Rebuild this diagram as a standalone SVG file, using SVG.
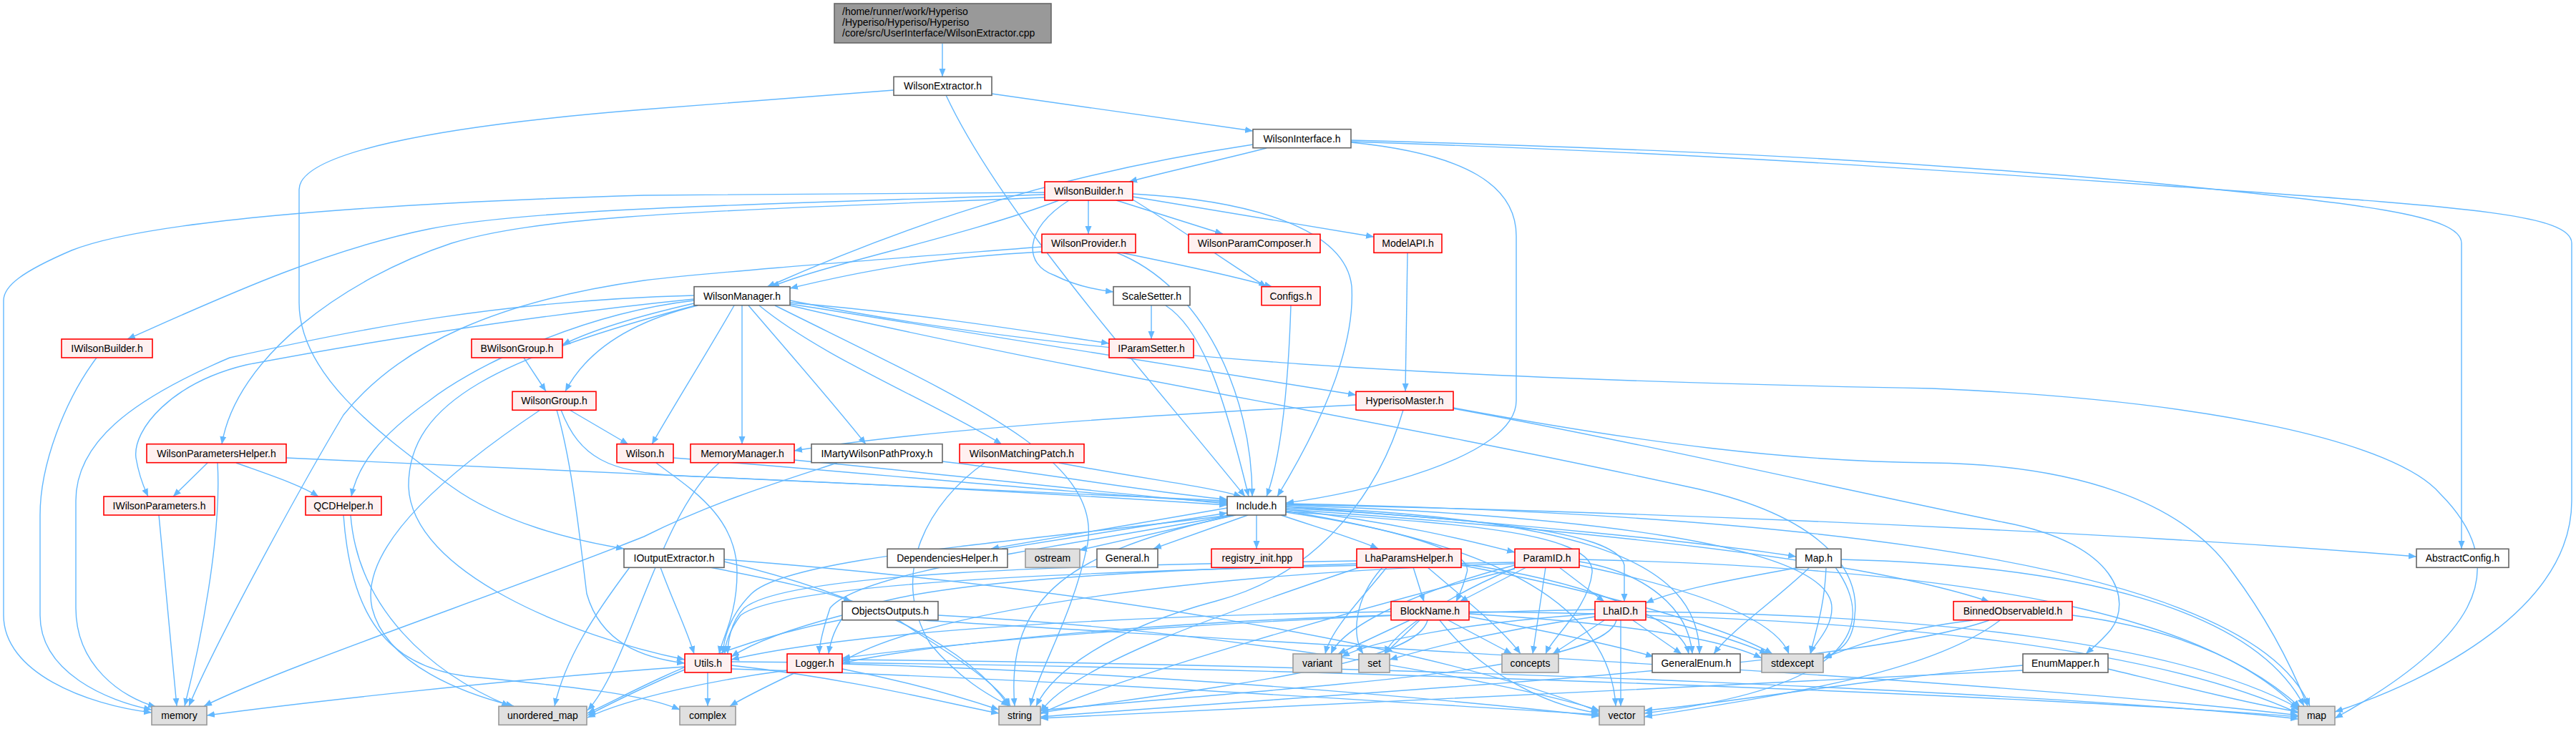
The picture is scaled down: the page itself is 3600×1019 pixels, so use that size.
<svg xmlns="http://www.w3.org/2000/svg" width="3600" height="1019" viewBox="0 0 3600 1019">
<defs>
<marker id="a" markerWidth="12" markerHeight="10" refX="11" refY="4.5" orient="auto" markerUnits="userSpaceOnUse"><path d="M0,0 L11,4.5 L0,9 z" fill="#63b8ff"/></marker>
<style>
.e path{fill:none;stroke:#63b8ff;stroke-width:1.4;marker-end:url(#a)}
.r{fill:#fff0f0;stroke:#ff0000;stroke-width:1.6}
.w{fill:#ffffff;stroke:#666666;stroke-width:1.6}
.g{fill:#e0e0e0;stroke:#999999;stroke-width:1.6}
.root{fill:#999999;stroke:#666666;stroke-width:1.6}
text{font-family:"Liberation Sans",Arial,sans-serif;font-size:14px;fill:#000000}
.c{text-anchor:middle}
</style>
</defs>
<rect x="0" y="0" width="3600" height="1019" fill="#ffffff"/>
<g id="connectors" class="e">
<path d="M1317,61 L1317,107"/>
<path d="M1386,131 L1751,183"/>
<path d="M1249,126 C1100,137 1000,146 900,153 C600,177 418,215 418,265 L418,423 C418,520 520,600 631,680 C700,730 800,755 872,767"/>
<path d="M1322,133 C1400,300 1600,520 1740,694"/>
<path d="M1770,207 C1700,225 1630,240 1578,254"/>
<path d="M1751,202 C1500,240 1300,300 1072,401"/>
<path d="M1888,199 C2050,215 2119,260 2119,330 L2119,560 C2119,640 1900,690 1797,703"/>
<path d="M1888,196 C2400,210 2700,228 3000,255 C3300,285 3440,300 3440,340 L3440,767"/>
<path d="M1888,198 C2400,215 2700,237 3100,265 C3450,290 3594,300 3594,340 L3594,700 C3594,850 3400,950 3263,995"/>
<path d="M1460,272 C1100,285 750,290 600,320 C450,350 300,420 178,474"/>
<path d="M1460,276 C1000,295 760,300 631,340 C480,390 330,500 310,621"/>
<path d="M1460,269 C1200,271 1000,272 900,273 C500,285 200,310 100,350 C30,380 5,400 5,420 L5,860 C5,940 120,985 212,996"/>
<path d="M1480,280 C1350,330 1150,370 1078,401"/>
<path d="M1521,280 L1521,327"/>
<path d="M1494,280 C1430,320 1430,370 1474,385 C1500,398 1530,405 1556,408"/>
<path d="M1560,280 L1709,327"/>
<path d="M1583,279 C1650,320 1720,370 1770,401"/>
<path d="M1583,275 L1920,331"/>
<path d="M1583,271 C1750,280 1880,320 1889,400 C1895,500 1830,620 1785,694"/>
<path d="M1456,352 C1300,360 1200,380 1104,403"/>
<path d="M1566,353 C1650,370 1720,385 1778,401"/>
<path d="M1560,353 C1680,400 1750,550 1750,694"/>
<path d="M1456,345 C1200,365 1000,380 900,392 C700,420 560,480 480,580 C420,680 300,900 264,987"/>
<path d="M1967,353 L1964,547"/>
<path d="M1609,427 L1609,474"/>
<path d="M1629,427 C1680,460 1710,550 1745,694"/>
<path d="M1804,427 C1800,550 1790,640 1770,694"/>
<path d="M970,424 C900,440 830,460 786,482"/>
<path d="M975,427 C880,450 820,490 790,547"/>
<path d="M1026,427 C990,490 940,570 911,621"/>
<path d="M1037,427 L1037,621"/>
<path d="M1046,427 C1100,490 1170,570 1210,621"/>
<path d="M1061,427 C1150,500 1300,560 1400,621"/>
<path d="M1104,423 C1300,440 1450,465 1550,480"/>
<path d="M1104,425 C1400,470 1700,520 1895,552"/>
<path d="M970,418 C750,440 500,480 344,510 C240,535 185,600 190,640 C195,670 203,685 207,694"/>
<path d="M970,420 C800,440 650,520 600,560 C530,610 500,650 491,694"/>
<path d="M1083,427 C1350,560 1540,640 1520,760 C1500,860 1450,940 1440,987"/>
<path d="M970,413 C700,420 500,460 321,500 C180,560 106,620 106,700 L106,850 C106,930 170,975 218,988"/>
<path d="M975,426 C700,500 570,560 571,680 C575,800 800,890 957,922"/>
<path d="M1104,420 C1500,500 2000,530 2700,543 C3100,560 3350,620 3410,690 C3520,800 3450,900 3263,1004"/>
<path d="M1104,427 C1500,520 1900,580 2357,680 C2550,720 2600,800 2592,860 C2590,900 2570,910 2549,920"/>
<path d="M732,500 L763,547"/>
<path d="M796,573 L878,621"/>
<path d="M755,573 C640,650 500,760 520,850 C540,930 650,970 718,987"/>
<path d="M778,573 C800,650 810,750 820,830 C840,900 900,920 957,927"/>
<path d="M784,573 C810,640 850,660 950,665 C1300,680 1550,695 1715,706"/>
<path d="M290,647 L242,694"/>
<path d="M304,647 C310,750 280,900 258,987"/>
<path d="M330,647 C380,665 420,678 445,694"/>
<path d="M400,640 C700,655 1300,680 1715,700"/>
<path d="M917,647 C960,680 1030,720 1030,800 C1030,860 1010,890 1005,914"/>
<path d="M941,640 C1200,660 1500,690 1715,702"/>
<path d="M1110,643 C1300,660 1550,690 1715,704"/>
<path d="M1005,647 C920,720 880,930 821,993"/>
<path d="M1895,566 C1600,580 1300,600 1110,630"/>
<path d="M1961,573 C1930,680 1850,800 1700,840 C1550,880 1470,940 1448,987"/>
<path d="M2031,570 C2300,620 2500,645 2700,647 C2900,650 3050,700 3120,800 C3180,880 3210,950 3225,987"/>
<path d="M2031,571 C2300,620 2600,690 2800,730 C2960,760 2980,840 2950,880 C2935,898 2925,905 2915,914"/>
<path d="M1715,710 L1385,767"/>
<path d="M1400,767 L1715,717"/>
<path d="M1727,720 L1508,769"/>
<path d="M1744,720 L1612,767"/>
<path d="M1756,720 L1756,767"/>
<path d="M1790,720 C1850,740 1900,755 1926,767"/>
<path d="M1797,712 C1950,730 2050,755 2117,772"/>
<path d="M1797,708 C2100,730 2400,760 2510,778"/>
<path d="M1797,705 C2500,720 3100,755 3377,778"/>
<path d="M1797,714 C1950,740 2060,770 2050,800 C2045,820 2040,830 2035,841"/>
<path d="M1797,710 C2050,725 2260,740 2270,790 L2270,841"/>
<path d="M1797,712 C2200,740 2600,780 2780,841"/>
<path d="M1797,708 C2200,725 2375,780 2375,914"/>
<path d="M1797,706 C2200,720 2560,760 2560,850 C2560,880 2535,900 2530,914"/>
<path d="M1797,715 C2000,730 2230,740 2225,800 C2220,850 2170,890 2160,914"/>
<path d="M1720,720 C1400,760 1100,780 1050,830 C1020,860 1012,890 1010,914"/>
<path d="M1722,720 C1450,770 1200,800 1160,850 C1150,880 1145,900 1145,914"/>
<path d="M1725,720 C1500,770 1405,830 1418,987"/>
<path d="M1797,716 C2100,760 2250,850 2258,987"/>
<path d="M1797,704 C2600,720 3150,800 3228,987"/>
<path d="M1975,793 L1990,841"/>
<path d="M1938,793 C1900,840 1860,880 1852,914"/>
<path d="M1932,793 C1890,840 1890,890 1905,914"/>
<path d="M1995,793 C2050,840 2100,880 2125,914"/>
<path d="M2042,790 C2200,820 2400,870 2477,914"/>
<path d="M1896,784 C1500,790 1100,800 1040,850 C1020,870 1017,900 1017,914"/>
<path d="M1896,788 C1500,800 1250,820 1180,860 C1165,880 1160,900 1158,914"/>
<path d="M1900,793 C1700,860 1500,930 1454,995"/>
<path d="M2042,788 C2200,810 2350,860 2360,914"/>
<path d="M2133,793 L2040,841"/>
<path d="M2179,793 L2242,841"/>
<path d="M2160,793 L2142,914"/>
<path d="M2207,785 C2300,800 2360,850 2365,914"/>
<path d="M2207,790 C2350,820 2480,860 2500,914"/>
<path d="M2117,790 C2000,820 1880,870 1860,914"/>
<path d="M2117,794 C2030,830 1950,880 1935,914"/>
<path d="M2207,782 C2800,795 3100,870 3215,995"/>
<path d="M2117,795 C1900,850 1550,950 1454,998"/>
<path d="M2117,786 C1600,795 1100,810 1035,860 C1020,880 1013,900 1013,914"/>
<path d="M2117,788 C1700,800 1300,850 1177,925"/>
<path d="M1970,867 L1870,914"/>
<path d="M1984,867 L1935,914"/>
<path d="M2024,867 L2113,914"/>
<path d="M2053,862 C2150,880 2250,900 2311,918"/>
<path d="M2053,858 C2250,870 2400,890 2462,920"/>
<path d="M2012,867 C2060,930 2150,985 2235,997"/>
<path d="M1995,867 C1980,930 1700,960 1454,996"/>
<path d="M1944,855 C1600,860 1200,880 1022,922"/>
<path d="M1944,860 C1600,870 1300,900 1177,927"/>
<path d="M2053,855 C2600,860 3000,900 3212,997"/>
<path d="M2265,867 L2265,987"/>
<path d="M2242,867 L2170,914"/>
<path d="M2282,867 L2350,914"/>
<path d="M2300,862 C2380,880 2440,900 2470,914"/>
<path d="M2229,862 C2100,880 2000,905 1942,922"/>
<path d="M2229,858 C2050,870 1920,895 1875,918"/>
<path d="M2259,867 C2240,940 1800,960 1454,993"/>
<path d="M2300,855 C2700,860 3050,900 3212,990"/>
<path d="M2229,852 C1800,860 1400,890 1177,920"/>
<path d="M2515,793 C2420,810 2340,825 2300,843"/>
<path d="M2529,793 C2480,840 2420,880 2395,914"/>
<path d="M2552,793 C2550,850 2535,890 2530,914"/>
<path d="M2565,793 C2620,870 2600,960 2298,997"/>
<path d="M2573,782 C2900,790 3150,850 3220,987"/>
<path d="M2757,867 C2650,880 2600,900 2548,920"/>
<path d="M2780,867 C2600,930 2000,960 1454,1002"/>
<path d="M2795,867 C2700,940 2500,970 2298,1002"/>
<path d="M2896,860 C3050,880 3150,930 3215,989"/>
<path d="M2946,935 C3050,960 3150,985 3212,995"/>
<path d="M2827,930 C2600,950 2400,985 2298,993"/>
<path d="M2827,937 C2400,960 1800,985 1454,1004"/>
<path d="M992,793 C1080,810 1150,825 1190,841"/>
<path d="M923,793 C940,840 960,880 970,914"/>
<path d="M880,793 C830,860 790,920 775,987"/>
<path d="M1012,785 C1200,830 1350,900 1410,987"/>
<path d="M1012,782 C1500,820 2000,900 2235,995"/>
<path d="M1177,860 C1100,880 1050,900 1022,918"/>
<path d="M1256,867 C1320,910 1390,950 1412,987"/>
<path d="M1311,860 C1700,880 2100,950 2235,993"/>
<path d="M1290,867 C1800,900 2800,950 3212,1000"/>
<path d="M1177,866 C1000,900 900,960 821,997"/>
<path d="M989,940 L989,987"/>
<path d="M1022,930 C1200,950 1330,985 1396,997"/>
<path d="M1022,935 C1500,950 2000,985 2235,999"/>
<path d="M1022,925 C1800,930 2900,975 3212,1002"/>
<path d="M957,932 C700,950 400,985 289,1000"/>
<path d="M957,936 C900,960 860,980 821,1000"/>
<path d="M1112,940 C1070,960 1040,975 1020,987"/>
<path d="M1177,935 C1280,955 1360,980 1396,992"/>
<path d="M1177,928 C1600,940 2000,975 2235,1001"/>
<path d="M1177,922 C2000,930 2900,970 3212,1005"/>
<path d="M1100,937 C1000,950 880,975 821,1003"/>
<path d="M480,720 C490,860 540,930 650,945 C800,960 900,970 950,992"/>
<path d="M490,720 C500,850 600,940 712,987"/>
<path d="M222,720 L247,987"/>
<path d="M135,500 C90,560 56,650 56,720 L56,860 C56,940 150,980 212,992"/>
<path d="M1170,647 C1100,670 1000,700 900,750 C700,830 400,930 285,987"/>
<path d="M1317,645 C1450,660 1620,690 1715,698"/>
<path d="M1480,647 C1600,670 1690,680 1735,694"/>
<path d="M1376,647 C1300,700 1240,800 1300,900 C1350,960 1400,980 1410,987"/>
</g>
<g id="n-root"><rect class="root" x="1166" y="5" width="303" height="55"/><text x="1177" y="21">/home/runner/work/Hyperiso</text><text x="1177" y="36">/Hyperiso/Hyperiso/Hyperiso</text><text x="1177" y="51">/core/src/UserInterface/WilsonExtractor.cpp</text></g>
<g id="n-WilsonExtractor"><rect class="w" x="1249" y="107.3" width="137" height="26"/><text class="c" x="1317.5" y="125.3">WilsonExtractor.h</text></g>
<g id="n-WilsonInterface"><rect class="w" x="1751" y="180.7" width="137" height="26"/><text class="c" x="1819.5" y="198.7">WilsonInterface.h</text></g>
<g id="n-WilsonBuilder"><rect class="r" x="1460" y="254" width="123" height="26"/><text class="c" x="1521.5" y="272">WilsonBuilder.h</text></g>
<g id="n-WilsonProvider"><rect class="r" x="1456" y="327.3" width="131" height="26"/><text class="c" x="1521.5" y="345.3">WilsonProvider.h</text></g>
<g id="n-WilsonParamComposer"><rect class="r" x="1661" y="327.3" width="184" height="26"/><text class="c" x="1753" y="345.3">WilsonParamComposer.h</text></g>
<g id="n-ModelAPI"><rect class="r" x="1920" y="327.3" width="95" height="26"/><text class="c" x="1967.5" y="345.3">ModelAPI.h</text></g>
<g id="n-WilsonManager"><rect class="w" x="970" y="400.7" width="134" height="26"/><text class="c" x="1037" y="418.7">WilsonManager.h</text></g>
<g id="n-ScaleSetter"><rect class="w" x="1556" y="400.7" width="107" height="26"/><text class="c" x="1609.5" y="418.7">ScaleSetter.h</text></g>
<g id="n-Configs"><rect class="r" x="1763" y="400.7" width="82" height="26"/><text class="c" x="1804" y="418.7">Configs.h</text></g>
<g id="n-IWilsonBuilder"><rect class="r" x="86" y="474" width="127" height="26"/><text class="c" x="149.5" y="492">IWilsonBuilder.h</text></g>
<g id="n-BWilsonGroup"><rect class="r" x="659" y="474" width="127" height="26"/><text class="c" x="722.5" y="492">BWilsonGroup.h</text></g>
<g id="n-IParamSetter"><rect class="r" x="1550" y="474" width="118" height="26"/><text class="c" x="1609" y="492">IParamSetter.h</text></g>
<g id="n-WilsonGroup"><rect class="r" x="716" y="547.3" width="117" height="26"/><text class="c" x="774.5" y="565.3">WilsonGroup.h</text></g>
<g id="n-HyperisoMaster"><rect class="r" x="1895" y="547.3" width="136" height="26"/><text class="c" x="1963" y="565.3">HyperisoMaster.h</text></g>
<g id="n-WilsonParametersHelper"><rect class="r" x="205" y="620.7" width="195" height="26"/><text class="c" x="302.5" y="638.7">WilsonParametersHelper.h</text></g>
<g id="n-Wilson"><rect class="r" x="862" y="620.7" width="79" height="26"/><text class="c" x="901.5" y="638.7">Wilson.h</text></g>
<g id="n-MemoryManager"><rect class="r" x="965" y="620.7" width="145" height="26"/><text class="c" x="1037.5" y="638.7">MemoryManager.h</text></g>
<g id="n-IMartyWilsonPathProxy"><rect class="w" x="1134" y="620.7" width="183" height="26"/><text class="c" x="1225.5" y="638.7">IMartyWilsonPathProxy.h</text></g>
<g id="n-WilsonMatchingPatch"><rect class="r" x="1341" y="620.7" width="174" height="26"/><text class="c" x="1428" y="638.7">WilsonMatchingPatch.h</text></g>
<g id="n-IWilsonParameters"><rect class="r" x="145" y="694" width="155" height="26"/><text class="c" x="222.5" y="712">IWilsonParameters.h</text></g>
<g id="n-QCDHelper"><rect class="r" x="427" y="694" width="106" height="26"/><text class="c" x="480" y="712">QCDHelper.h</text></g>
<g id="n-Include"><rect class="w" x="1715" y="694" width="82" height="26"/><text class="c" x="1756" y="712">Include.h</text></g>
<g id="n-IOutputExtractor"><rect class="w" x="872" y="767.3" width="140" height="26"/><text class="c" x="942" y="785.3">IOutputExtractor.h</text></g>
<g id="n-DependenciesHelper"><rect class="w" x="1240" y="767.3" width="168" height="26"/><text class="c" x="1324" y="785.3">DependenciesHelper.h</text></g>
<g id="n-ostream"><rect class="g" x="1433" y="767.3" width="76" height="26"/><text class="c" x="1471" y="785.3">ostream</text></g>
<g id="n-General"><rect class="w" x="1533" y="767.3" width="85" height="26"/><text class="c" x="1575.5" y="785.3">General.h</text></g>
<g id="n-registry_init"><rect class="r" x="1693" y="767.3" width="128" height="26"/><text class="c" x="1757" y="785.3">registry_init.hpp</text></g>
<g id="n-LhaParamsHelper"><rect class="r" x="1896" y="767.3" width="146" height="26"/><text class="c" x="1969" y="785.3">LhaParamsHelper.h</text></g>
<g id="n-ParamID"><rect class="r" x="2117" y="767.3" width="90" height="26"/><text class="c" x="2162" y="785.3">ParamID.h</text></g>
<g id="n-Map"><rect class="w" x="2510" y="767.3" width="63" height="26"/><text class="c" x="2541.5" y="785.3">Map.h</text></g>
<g id="n-AbstractConfig"><rect class="w" x="3377" y="767.3" width="129" height="26"/><text class="c" x="3441.5" y="785.3">AbstractConfig.h</text></g>
<g id="n-ObjectsOutputs"><rect class="w" x="1177" y="840.7" width="134" height="26"/><text class="c" x="1244" y="858.7">ObjectsOutputs.h</text></g>
<g id="n-BlockName"><rect class="r" x="1944" y="840.7" width="109" height="26"/><text class="c" x="1998.5" y="858.7">BlockName.h</text></g>
<g id="n-LhaID"><rect class="r" x="2229" y="840.7" width="71" height="26"/><text class="c" x="2264.5" y="858.7">LhaID.h</text></g>
<g id="n-BinnedObservableId"><rect class="r" x="2730" y="840.7" width="166" height="26"/><text class="c" x="2813" y="858.7">BinnedObservableId.h</text></g>
<g id="n-Utils"><rect class="r" x="957" y="914" width="65" height="26"/><text class="c" x="989.5" y="932">Utils.h</text></g>
<g id="n-Logger"><rect class="r" x="1100" y="914" width="77" height="26"/><text class="c" x="1138.5" y="932">Logger.h</text></g>
<g id="n-variant"><rect class="g" x="1807" y="914" width="68" height="26"/><text class="c" x="1841" y="932">variant</text></g>
<g id="n-set"><rect class="g" x="1899" y="914" width="43" height="26"/><text class="c" x="1920.5" y="932">set</text></g>
<g id="n-concepts"><rect class="g" x="2099" y="914" width="79" height="26"/><text class="c" x="2138.5" y="932">concepts</text></g>
<g id="n-GeneralEnum"><rect class="w" x="2309" y="914" width="123" height="26"/><text class="c" x="2370.5" y="932">GeneralEnum.h</text></g>
<g id="n-stdexcept"><rect class="g" x="2462" y="914" width="86" height="26"/><text class="c" x="2505" y="932">stdexcept</text></g>
<g id="n-EnumMapper"><rect class="w" x="2827" y="914" width="119" height="26"/><text class="c" x="2886.5" y="932">EnumMapper.h</text></g>
<g id="n-memory"><rect class="g" x="212" y="987.3" width="77" height="26"/><text class="c" x="250.5" y="1005.3">memory</text></g>
<g id="n-unordered_map"><rect class="g" x="697" y="987.3" width="123" height="26"/><text class="c" x="758.5" y="1005.3">unordered_map</text></g>
<g id="n-complex"><rect class="g" x="950" y="987.3" width="78" height="26"/><text class="c" x="989" y="1005.3">complex</text></g>
<g id="n-string"><rect class="g" x="1396" y="987.3" width="58" height="26"/><text class="c" x="1425" y="1005.3">string</text></g>
<g id="n-vector"><rect class="g" x="2235" y="987.3" width="63" height="26"/><text class="c" x="2266.5" y="1005.3">vector</text></g>
<g id="n-map"><rect class="g" x="3212" y="987.3" width="51" height="26"/><text class="c" x="3237.5" y="1005.3">map</text></g>
</svg>
